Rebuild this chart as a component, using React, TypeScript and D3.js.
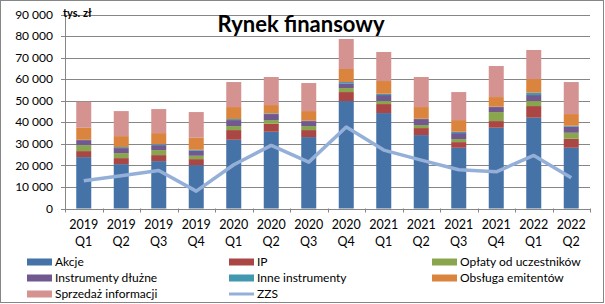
import React from "react";
import * as d3 from "d3";

const categories = ["2019 Q1","2019 Q2","2019 Q3","2019 Q4","2020 Q1","2020 Q2","2020 Q3","2020 Q4","2021 Q1","2021 Q2","2021 Q3","2021 Q4","2022 Q1","2022 Q2"];
const akcje = [23840,20590,21980,20120,31890,35600,33130,49850,44270,34060,28170,37460,42110,28170];
const ip = [2790,2790,2790,2790,4490,3720,3250,4170,4180,3250,2630,3100,5410,4180];
const oplaty = [2780,2320,2320,1550,1860,1700,1860,1860,1400,1390,1400,4180,2330,2790];
const dluzne = [2320,2320,2320,2320,2780,2790,2320,2170,2780,2790,2780,2320,2780,2790];
const inne = [150,460,470,460,470,310,150,620,620,150,620,150,1090,460];
const obsluga = [5580,5100,5100,5580,5570,3870,4490,6040,5880,5420,5420,4490,6340,5420];
const sprzedaz = [12070,11610,11150,11920,11610,13000,13000,13930,13470,13930,13000,14400,13470,14860];
const zzs = [12850,15170,17650,8050,20300,29260,21520,37770,27090,22450,17960,17030,24610,14240];
const yTicks = [0,10000,20000,30000,40000,50000,60000,70000,80000,90000];

const seriesNames = ["Akcje","IP","Opłaty od uczestników","Instrumenty dłużne","Inne instrumenty","Obsługa emitentów","Sprzedaż informacji"];
const seriesData = [akcje, ip, oplaty, dluzne, inne, obsluga, sprzedaz];
const colors = ["#4572A7","#AA4643","#89A54E","#71588F","#4198AF","#DB843D","#D49391"];
const lineColor = "#95B0D8";

const W = 605, H = 304;
const left = 65, right = 590, top = 14.5, bottom = 208.5;
const font = "Lato, 'Liberation Sans', sans-serif";

export default function App() {
  const x = d3.scaleBand<string>().domain(categories).range([left, right]).paddingInner(0.6).paddingOuter(0.3);
  const y = d3.scaleLinear().domain([0, 90000]).range([bottom, top]);
  const table = categories.map((c, i) => {
    const row: any = { cat: c };
    seriesNames.forEach((n, k) => (row[n] = seriesData[k][i]));
    return row;
  });
  const stacked = d3.stack().keys(seriesNames)(table);
  const fmt = (v: number) => (v === 0 ? "0" : d3.format(",")(v).replace(/,/g, " "));
  const line = d3.line<number>().x((_, i) => (x(categories[i]) as number) + x.bandwidth() / 2).y((v) => y(v));
  const step = x.step();

  const legendItems = [
    { name: "Akcje", col: 0, row: 0, color: colors[0] },
    { name: "IP", col: 1, row: 0, color: colors[1] },
    { name: "Opłaty od uczestników", col: 2, row: 0, color: colors[2] },
    { name: "Instrumenty dłużne", col: 0, row: 1, color: colors[3] },
    { name: "Inne instrumenty", col: 1, row: 1, color: colors[4] },
    { name: "Obsługa emitentów", col: 2, row: 1, color: colors[5] },
    { name: "Sprzedaż informacji", col: 0, row: 2, color: colors[6] },
    { name: "ZZS", col: 1, row: 2, color: lineColor, line: true },
  ];
  const colX = [27, 229, 432];
  const rowY = [262, 278, 294];

  return (
    <svg width={W} height={H} style={{ position: "absolute", left: 0, top: 0, background: "#fff" }} fontFamily={font}>
      <rect x={0.5} y={0.5} width={W - 2} height={H - 2} fill="#fff" stroke="#868686" />
      {yTicks.map((t) => (
        <g key={t}>
          <line x1={left - 4} x2={right} y1={Math.round(y(t)) + 0.5} y2={Math.round(y(t)) + 0.5} stroke="#868686" />
          <text x={53} y={y(t)} dy="0.35em" textAnchor="end" fontSize={12} fill="#000">{fmt(t)}</text>
        </g>
      ))}
      <line x1={left + 0.5} x2={left + 0.5} y1={top} y2={bottom + 4} stroke="#868686" />
      {categories.map((c, i) => (
        <line key={"t" + i} x1={Math.round(left + step * (i + 1)) + 0.5} x2={Math.round(left + step * (i + 1)) + 0.5} y1={bottom} y2={bottom + 4} stroke="#868686" />
      ))}
      {stacked.map((s, k) => (
        <g key={s.key} fill={colors[k]}>
          {s.map((d, i) => (
            <rect key={i} x={x(categories[i])} width={x.bandwidth()} y={y(d[1])} height={y(d[0]) - y(d[1])} />
          ))}
        </g>
      ))}
      <path d={line(zzs) || ""} fill="none" stroke={lineColor} strokeWidth={3.5} strokeLinejoin="round" />
      {categories.map((c, i) => {
        const [yr, q] = c.split(" ");
        const cx = (x(c) as number) + x.bandwidth() / 2;
        return (
          <text key={"l" + i} x={cx} textAnchor="middle" fontSize={12.5} fill="#000">
            <tspan x={cx} y={229}>{yr}</tspan>
            <tspan x={cx} y={246}>{q}</tspan>
          </text>
        );
      })}
      <text x={63} y={17} fontSize={11} fontWeight="bold" fill="#000">tys. zł</text>
      <text x={301} y={32} textAnchor="middle" fontSize={22} fontWeight="bold" fill="#000">Rynek finansowy</text>
      {legendItems.map((it) => (
        <g key={it.name}>
          {it.line ? (
            <line x1={colX[it.col]} x2={colX[it.col] + 25} y1={rowY[it.row]} y2={rowY[it.row]} stroke={it.color} strokeWidth={3} />
          ) : (
            <rect x={colX[it.col]} y={rowY[it.row] - 3.5} width={25} height={7} fill={it.color} />
          )}
          <text x={colX[it.col] + 28} y={rowY[it.row]} dy="0.35em" fontSize={12} fill="#000">{it.name}</text>
        </g>
      ))}
    </svg>
  );
}
